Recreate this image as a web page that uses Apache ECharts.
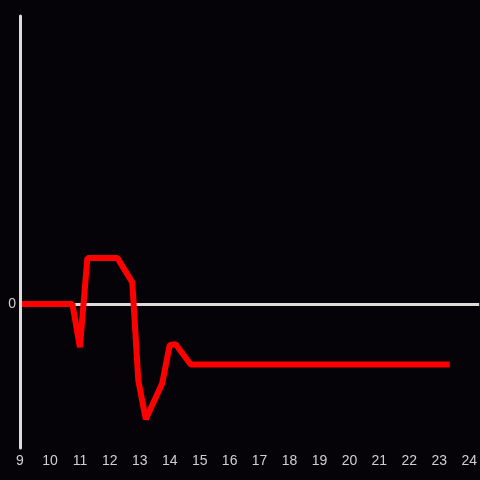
<!DOCTYPE html>
<html>
<head>
<meta charset="utf-8">
<script src="https://cdn.jsdelivr.net/npm/echarts@6/dist/echarts.min.js"></script>
<style>
  html, body { margin: 0; padding: 0; background: #050308; }
  #chart { width: 480px; height: 480px; }
</style>
</head>
<body>
<div id="chart"></div>
<script>
let hours = [9, 10.75, 11, 11.25, 12.25, 12.75, 12.95, 13.2, 13.75, 14, 14.2, 14.7, 23.35];
let values = [0, 0, -0.3, 0.32, 0.32, 0.15, -0.53, -0.8, -0.55, -0.285, -0.28, -0.42, -0.42];
let zero_line = [0];

let chart = echarts.init(document.getElementById('chart'));

let options = {
    backgroundColor: '#050308',
    animation: false,
    grid: {
        left: 20,
        right: 0,
        top: 16,
        bottom: 32
    },
    xAxis: {
        type: 'value',
        min: 9,
        max: 24.333,
        interval: 1,
        axisLine: { show: false, onZero: false },
        axisTick: { show: false },
        splitLine: { show: false },
        axisLabel: {
            color: '#d0d0d0',
            fontSize: 14,
            fontFamily: 'Liberation Sans, sans-serif',
            margin: 6,
            showMaxLabel: false,
            formatter: function (v) {
                return Number.isInteger(v) ? String(v) : '';
            }
        }
    },
    yAxis: {
        type: 'value',
        min: -1,
        max: 2,
        interval: 1,
        z: 5,
        axisLine: { show: true, lineStyle: { color: '#dcdcdc', width: 3 } },
        axisTick: { show: false },
        splitLine: { show: false },
        axisLabel: {
            color: '#d0d0d0',
            fontSize: 14,
            fontFamily: 'Liberation Sans, sans-serif',
            margin: 4,
            formatter: function (v) {
                return v === 0 ? '0' : '';
            }
        }
    },
    series: [
        {
            type: 'line',
            z: 1,
            data: [],
            silent: true,
            markLine: {
                z: 1,
                symbol: 'none',
                silent: true,
                label: { show: false },
                lineStyle: { color: '#dcdcdc', width: 3, type: 'solid' },
                data: zero_line.map(v => ({ yAxis: v }))
            }
        },
        {
            type: 'line',
            z: 3,
            showSymbol: false,
            lineStyle: { color: '#ff0000', width: 6, cap: 'butt', join: 'bevel' },
            data: hours.map((h, i) => [h, values[i]])
        }
    ]
};

chart.setOption(options);
</script>
</body>
</html>
